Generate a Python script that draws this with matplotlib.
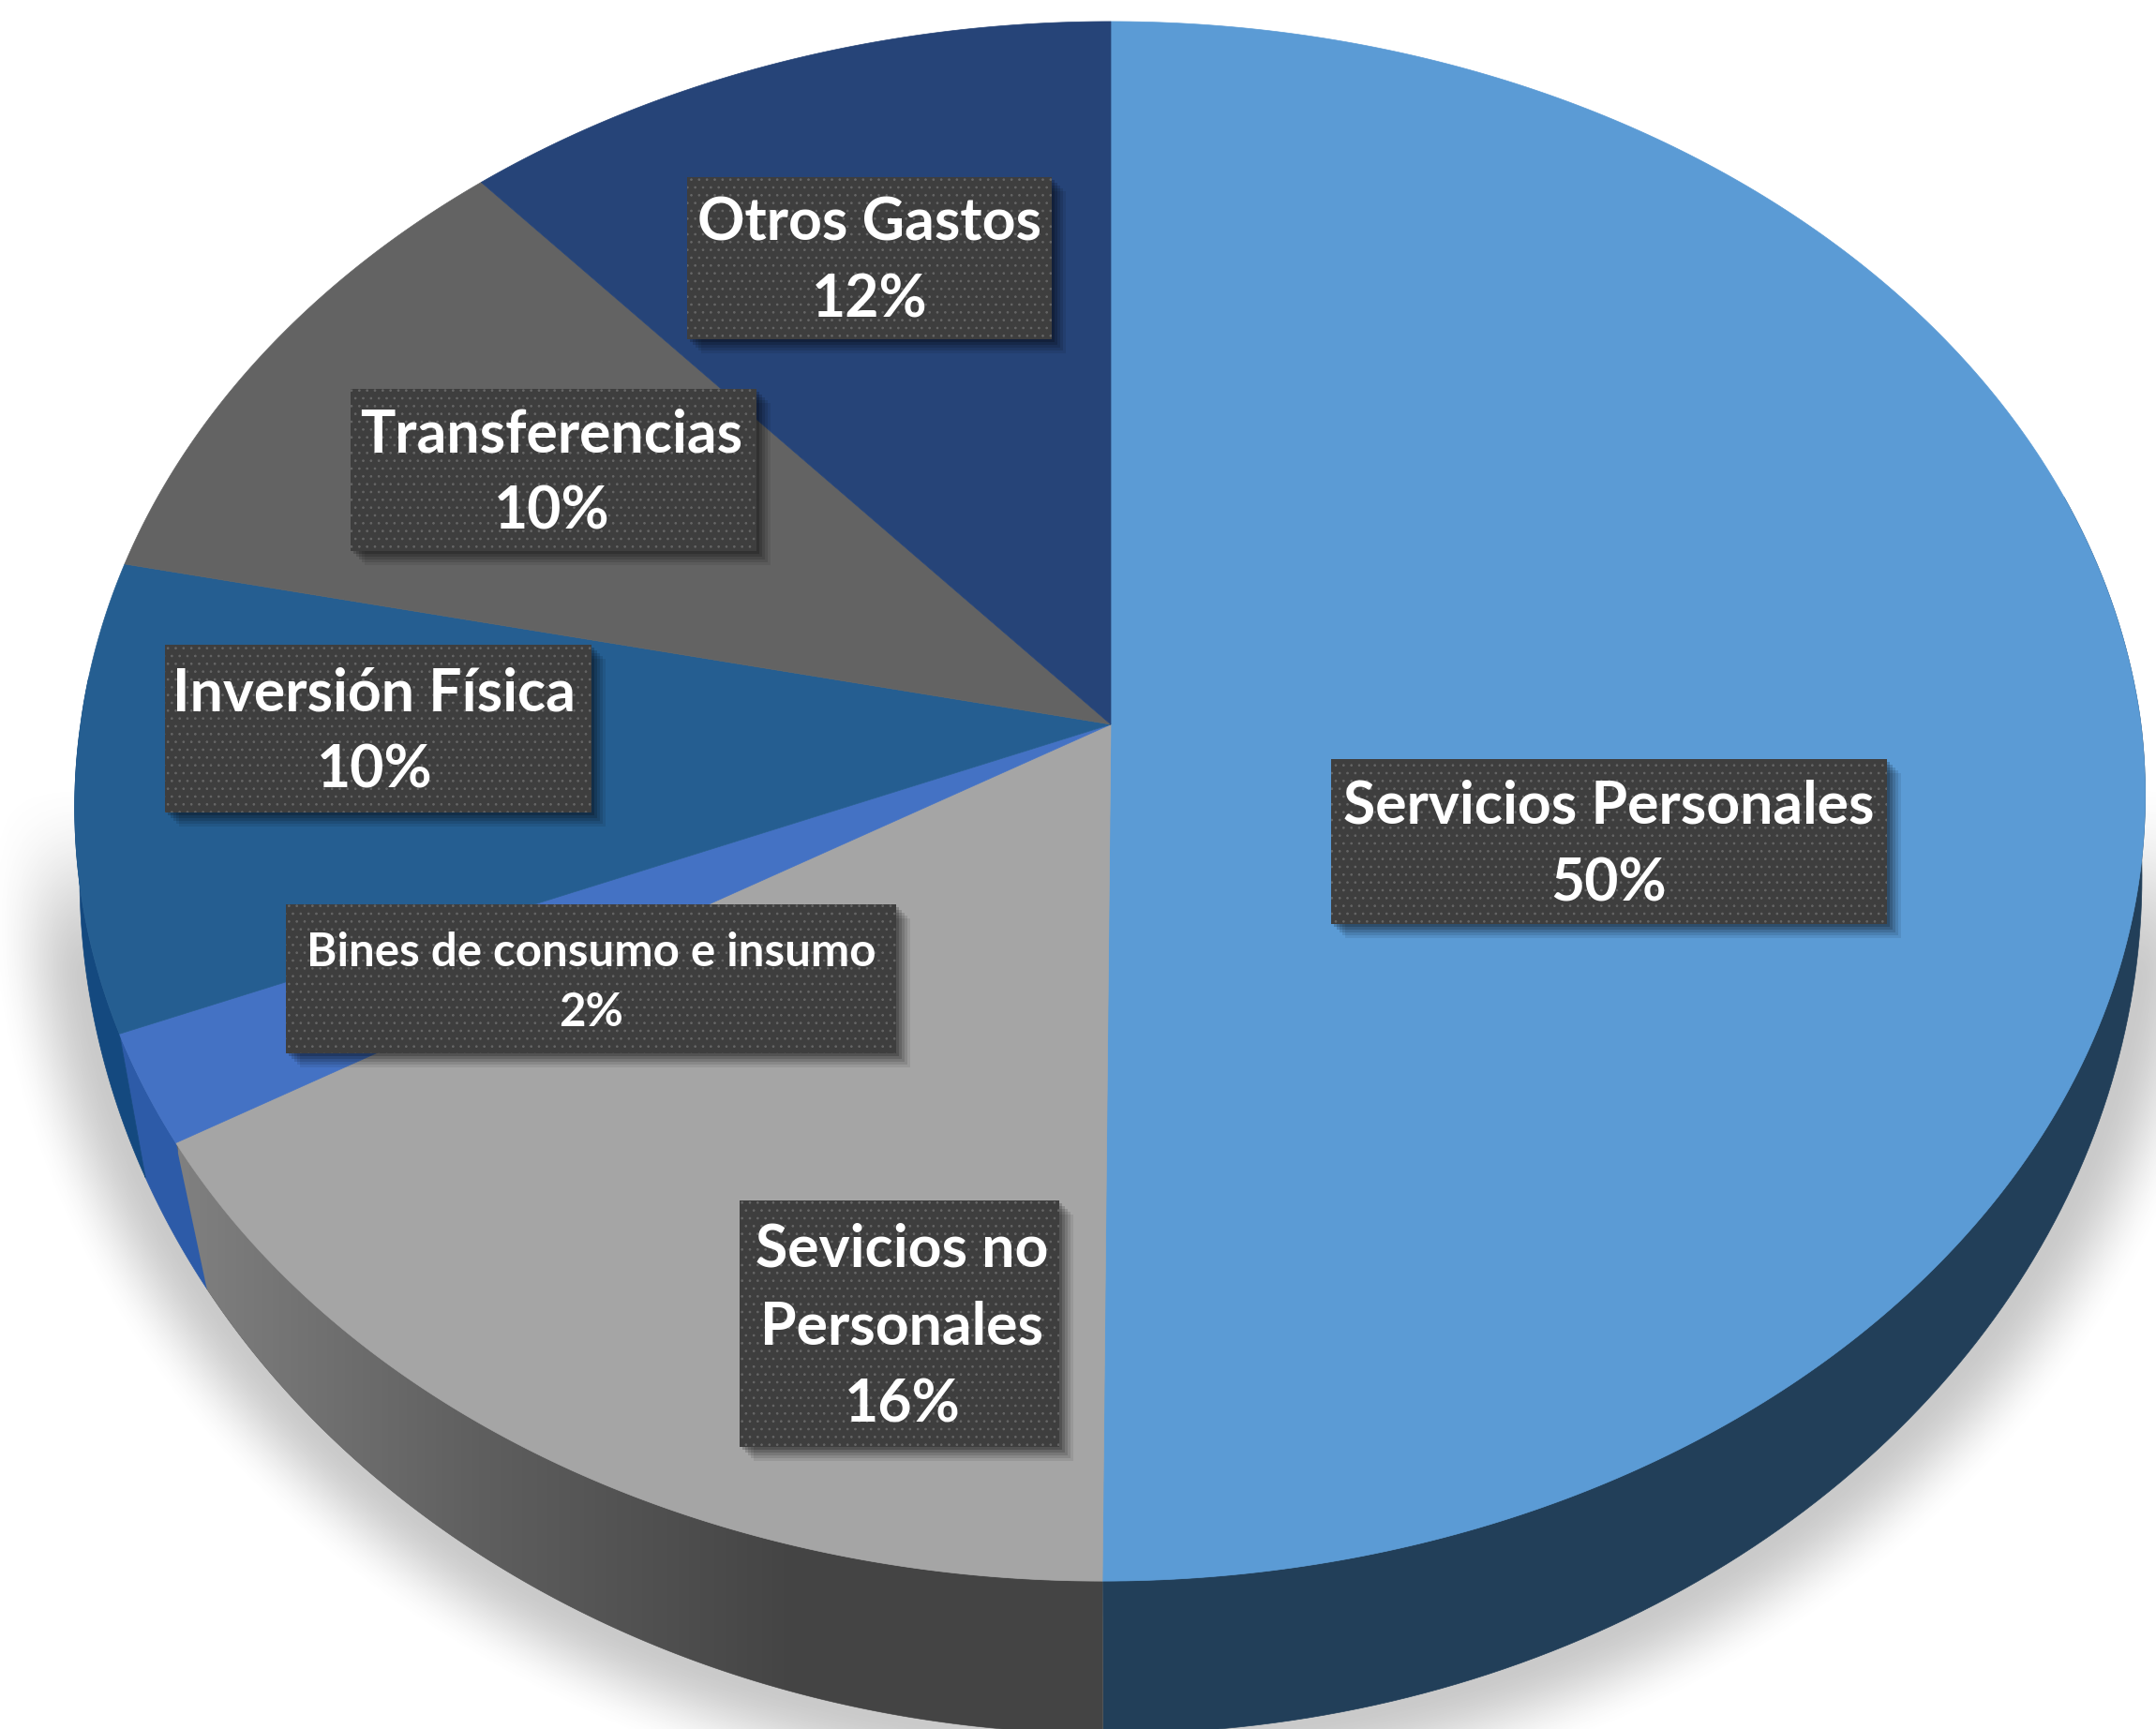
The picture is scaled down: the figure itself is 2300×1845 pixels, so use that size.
#!/usr/bin/env python3
import numpy as np
import matplotlib
matplotlib.use("Agg")
import matplotlib.pyplot as plt
from matplotlib.patches import Polygon, Rectangle

plt.rcParams["font.family"] = ["Lato", "DejaVu Sans"]
plt.rcParams["hatch.linewidth"] = 0.7

# porcentajes, en sentido horario desde arriba
categories = ["Servicios Personales", "Sevicios no\nPersonales", "Bines de consumo e insumo",
              "Inversión Física", "Transferencias", "Otros Gastos"]
values = [50, 16.4, 2.3, 9.7, 10.2, 11.4]
pct_labels = ["50%", "16%", "2%", "10%", "10%", "12%"]
top_colors = ["#5b9bd5", "#a5a5a5", "#4472c4", "#255e91", "#636363", "#264478"]
side_colors = ["#223f59", "#666666", "#2d5ba8", "#14497f", "#3b3b3b", "#17294a"]

# cajas de etiquetas: x0, y0, x1, y1 en pixeles
boxes = [(1420, 810, 2013, 986), (789, 1281, 1130, 1544), (305, 965, 956, 1124),
         (176, 688, 631, 867), (374, 415, 807, 588), (733, 189, 1122, 362)]
font_sizes = [45, 45, 35.5, 45, 45, 45]
text_dx = [0, 3, 0, -4, -2, 0]

W, H = 2300, 1845
APEX = (1185, 773)
P = 0.0986
K = 824
A = 1099
TOP_ELL = (1185, 855, 1104, 832)
LOW_ELL = (1185, 935, 1100, 915)


def top_edge(frac):
    th = 2 * np.pi * np.asarray(frac)
    u, v = np.sin(th), np.cos(th)
    d = 1 + P * v
    return APEX[0] + A * u / d - 9 * np.maximum(-v, 0), APEX[1] - K * v / d


def low_edge(frac):
    # mismo punto del borde superior, llevado a la elipse de abajo
    x, y = top_edge(frac)
    phi = np.arctan2((y - TOP_ELL[1]) / TOP_ELL[3], (x - TOP_ELL[0]) / TOP_ELL[2])
    phi = np.where(phi < -np.pi / 2, phi + 2 * np.pi, phi)
    phi2 = np.pi / 2 + (phi - np.pi / 2) * 0.955
    return LOW_ELL[0] + LOW_ELL[2] * np.cos(phi2), LOW_ELL[1] + LOW_ELL[3] * np.sin(phi2)


fig = plt.figure(figsize=(W / 100, H / 100), dpi=100)
ax = fig.add_axes([0, 0, 1, 1])
ax.set_xlim(0, W)
ax.set_ylim(H, 0)
ax.axis("off")

# sombra difusa alrededor del pastel
yy, xx = np.mgrid[0:H:2, 0:W:2]
r = np.hypot((xx - LOW_ELL[0]) / LOW_ELL[2], (yy - LOW_ELL[1]) / LOW_ELL[3])
dist = np.hypot(xx - LOW_ELL[0], yy - LOW_ELL[1]) * (1 - 1 / np.maximum(r, 1e-6))
fade = np.clip(1 - dist / 100, 0, 1)
fade = fade * fade * (3 - 2 * fade)
fade2 = np.clip((yy - 830) / 220, 0, 1)
fade2 = fade2 * fade2 * (3 - 2 * fade2)
shadow = np.zeros(xx.shape + (4,))
shadow[..., :3] = 0.42
shadow[..., 3] = 0.36 * fade * fade2
ax.imshow(shadow, extent=(0, W, H, 0), aspect="auto", zorder=1, interpolation="bilinear")
ax.set_xlim(0, W)
ax.set_ylim(H, 0)

edges = np.concatenate([[0], np.cumsum(values)]) / sum(values)

# paredes laterales (solo se ve la parte de abajo)
for i in range(len(values)):
    t = np.linspace(edges[i], edges[i + 1], 200)
    t = t[(t >= 0.2) & (t <= 0.76)]
    if len(t) < 2:
        continue
    xt, yt = top_edge(t)
    xl, yl = low_edge(t)
    pts = np.column_stack([np.r_[xt, xl[::-1]], np.r_[yt, yl[::-1]]])
    poly = Polygon(pts, closed=True, facecolor=side_colors[i], edgecolor=side_colors[i], lw=0.5, zorder=2)
    ax.add_patch(poly)
    if i == 1:
        # degradado de la cara gris
        grad = np.linspace(0, 1, 256).reshape(1, -1)
        cmap = matplotlib.colors.LinearSegmentedColormap.from_list("g", ["#808080", "#5e5e5e", "#444444", "#444444"])
        img = ax.imshow(grad, extent=(190, 1180, 1860, 1200), aspect="auto", zorder=2.1, cmap=cmap)
        img.set_clip_path(poly)
        ax.set_xlim(0, W)
        ax.set_ylim(H, 0)

# cara superior
for i in range(len(values)):
    t = np.linspace(edges[i], edges[i + 1], 300)
    xt, yt = top_edge(t)
    pts = np.column_stack([np.r_[APEX[0], xt], np.r_[APEX[1], yt]])
    ax.add_patch(Polygon(pts, closed=True, facecolor=top_colors[i], edgecolor=top_colors[i], lw=0.5, zorder=3))

# etiquetas
for name, pct, box, fs, dx in zip(categories, pct_labels, boxes, font_sizes, text_dx):
    x0, y0, x1, y1 = box
    for k, al in zip([15, 12, 9, 6, 3], [0.08, 0.1, 0.12, 0.15, 0.18]):
        ax.add_patch(Rectangle((x0 + k, y0 + k), x1 - x0, y1 - y0, facecolor="black", alpha=al, lw=0, zorder=4))
    ax.add_patch(Rectangle((x0, y0), x1 - x0, y1 - y0, facecolor="#3e3e3e", edgecolor="#666666",
                           hatch="..", lw=0, zorder=5))
    ax.text((x0 + x1) / 2 + dx, (y0 + y1) / 2 + 4, f"{name}\n{pct}", color="white", fontsize=fs, fontweight="bold",
            ha="center", va="center", multialignment="center", linespacing=1.53, zorder=6)

fig.savefig("out.png", dpi=100, facecolor="white")
plt.close(fig)
